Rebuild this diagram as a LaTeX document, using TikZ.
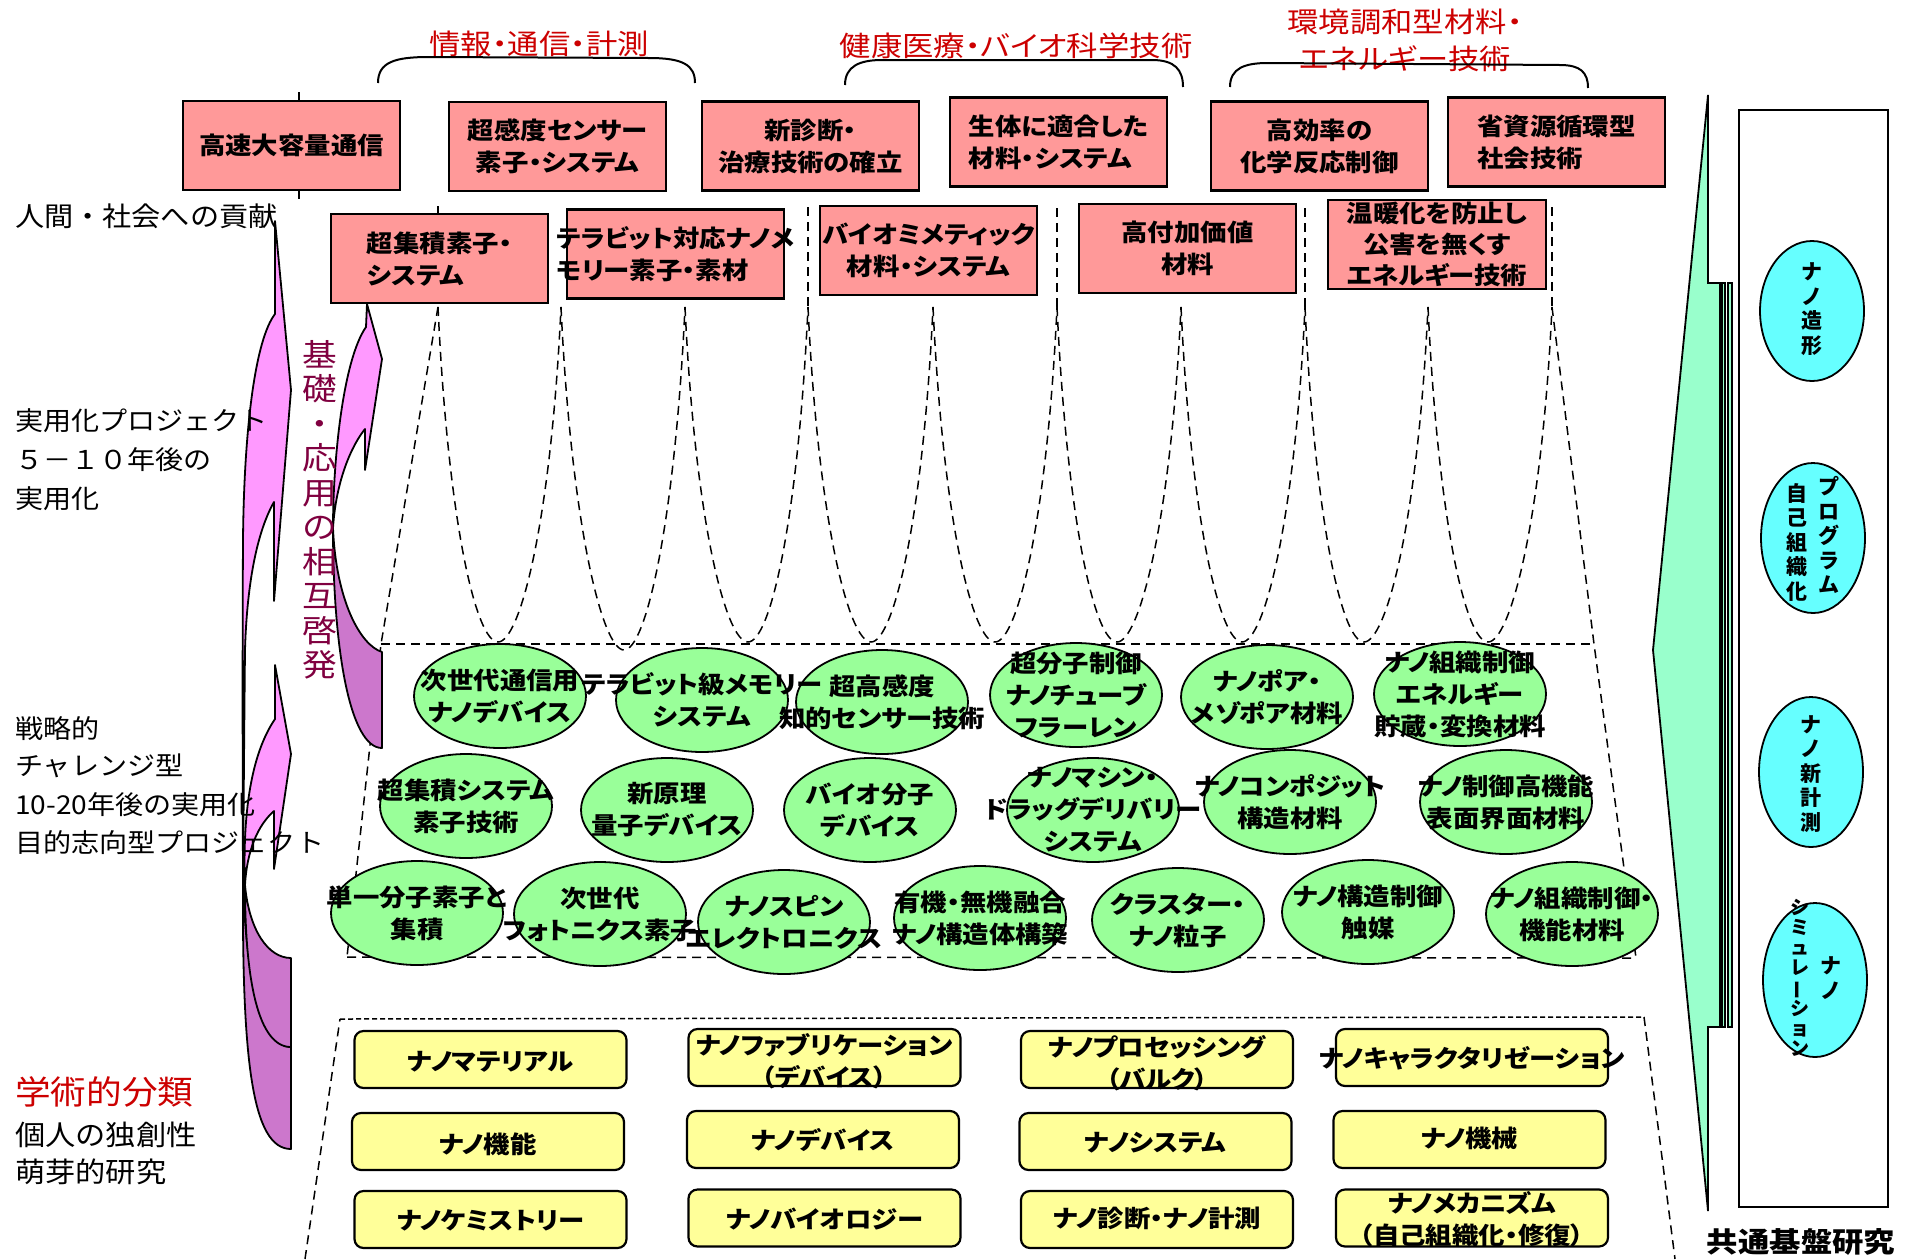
\documentclass[tikz,border=0pt]{standalone}
\usepackage{fontspec}
\usepackage{graphicx}
\setmainfont{Noto Sans CJK JP}
\newfontfamily\jpL{Noto Sans CJK JP}[FakeStretch=1.08]
\newfontfamily\jpP{Noto Sans CJK JP}[FakeStretch=1.12,RawFeature={+palt}]
\newfontfamily\jpB{Noto Sans CJK JP}[FakeStretch=1.10,RawFeature={+palt}]
\newfontfamily\jpN{Noto Sans CJK JP}[FakeStretch=1.12]
\usetikzlibrary{shapes.geometric,calc}
\definecolor{pinkbox}{HTML}{FF9999}
\definecolor{greenell}{HTML}{99FF99}
\definecolor{yellowbox}{HTML}{FFFF99}
\definecolor{cyanell}{HTML}{66FFFF}
\definecolor{arrowlight}{HTML}{FF99FF}
\definecolor{arrowdark}{HTML}{CC77CC}
\definecolor{bigarrow}{HTML}{99FFCC}
\definecolor{redlbl}{HTML}{CC0000}
\definecolor{kisocol}{HTML}{800040}
\tikzset{
 pbox/.style={draw=black, line width=2.2pt, fill=pinkbox, inner sep=0pt, minimum width=217pt, minimum height=89pt},
 gell/.style={ellipse, draw=black, line width=1.8pt, fill=greenell, inner sep=0pt, minimum width=172pt, minimum height=104pt},
 cell/.style={ellipse, draw=black, line width=1.8pt, fill=cyanell, inner sep=0pt, minimum width=104pt},
 ybox/.style={draw=black, line width=2.2pt, fill=yellowbox, rounded corners=9pt, inner sep=0pt, minimum width=272pt, minimum height=57pt},
 btxt/.style={inner sep=0pt, align=center, font=\jpB\bfseries\fontsize{24}{32}\selectfont},
 ltxt/.style={inner sep=0pt, anchor=west, font=\jpL\fontsize{26}{30}\selectfont},
 rtxt/.style={inner sep=0pt, align=center, text=redlbl, font=\jpP\fontsize{28}{37}\selectfont},
 vtxt/.style={inner sep=0pt, align=center, font=\bfseries\fontsize{21}{24.5}\selectfont},
 dsh/.style={dash pattern=on 9pt off 6pt, line width=1.5pt},
 fdsh/.style={dash pattern=on 5pt off 3pt, line width=1.5pt},
 brk/.style={line width=2pt},
 arw/.style={draw=black, line width=1.8pt, line join=round},
}
\begin{document}
\begin{tikzpicture}[x=1pt,y=-1pt]
\useasboundingbox (0,0) rectangle (1910,1259);
\fill[white] (0,0) rectangle (1910,1259);

% ---------- coordinates for dashed guide curves ----------
\foreach \xx [count=\i from 0] in {438,561,685,808,933,1057,1181,1305,1428,1552}
  \coordinate (u\i) at (\xx,307);
\foreach \xx/\yy [count=\i from 1] in {498/642,624/650,748/642,871/642,995/642,1117/642,1242/642,1364/642,1488/642}
  \coordinate (v\i) at (\xx,\yy);
\coordinate (w3) at (808,207);
\coordinate (w5) at (1057,208);
\coordinate (w7) at (1305,208);
\coordinate (w9) at (1552,207);
\coordinate (tl) at (381,644);
\coordinate (tr) at (1594,644);
\coordinate (bl) at (347,957);
\coordinate (br) at (1636,958);
\coordinate (ltl) at (340,1019);
\coordinate (ltr) at (1644,1017);
\coordinate (lbl) at (305,1259);
\coordinate (lbr) at (1675,1259);

\foreach \i [count=\j from 0] in {1,...,9}
  \draw[dsh] (u\j) .. controls ($(u\j)+(10,215)$) and ($(v\i)+(-22,0)$) .. (v\i)
                   .. controls ($(v\i)+(22,0)$) and ($(u\i)+(-10,215)$) .. (u\i);
\draw[dsh] (w3) -- (u3);
\draw[dsh] (w5) -- (u5);
\draw[dsh] (w7) -- (u7);
\draw[dsh] (w9) -- (u9);
\draw[dsh] (u0) -- (tl) -- (bl);
\draw[dsh] (tl) -- (tr);
\draw[dsh] (bl) -- (br);
\draw[dsh] (u9) -- (tr) -- (br);
\draw[dsh] (lbl) -- (ltl);
\draw[fdsh] (ltl) -- (ltr);
\draw[dsh] (ltr) -- (lbr);

% ---------- left curved arrows ----------
% big arrow A
\draw[arw, fill=arrowlight] (275,221) -- (291,390) -- (274,601) -- (274,502)
  .. controls (258,530) and (247,580) .. (245,650)
  .. controls (244,750) and (243.5,830) .. (243,880)
  .. controls (242.5,750) and (242.5,620) .. (243,540)
  .. controls (244,430) and (255,340) .. (275,314) -- cycle;
\draw[arw, fill=arrowdark] (243,880) .. controls (242,1060) and (252,1149) .. (291,1149)
  -- (291,1047) .. controls (265,1047) and (246,990) .. (243,880) -- cycle;
% arrow C
\draw[arw, fill=arrowlight] (275,665) -- (291,754) -- (274,869) -- (274,811)
  .. controls (258,825) and (247,850) .. (245,885)
  .. controls (243,830) and (247,760) .. (275,719) -- cycle;
\draw[arw, fill=arrowdark] (245,885) .. controls (245,980) and (258,1047) .. (291,1047)
  -- (291,958) .. controls (268,958) and (249,930) .. (245,885) -- cycle;
% small arrow S
\draw[arw, fill=arrowlight] (367,304) -- (382,359) -- (365,470) -- (365,429)
  .. controls (352,445) and (336,480) .. (333,528)
  .. controls (333,460) and (343,360) .. (366,327) -- cycle;
\draw[arw, fill=arrowdark] (333,528) .. controls (333,650) and (350,748) .. (382,748)
  -- (382,652) .. controls (360,645) and (336,600) .. (333,528) -- cycle;

% vertical maroon text
\node[inner sep=0pt, align=center, text=kisocol, font=\jpP\fontsize{31}{34.5}\selectfont] (kiso) at (320,510)
  {基\\礎\\・\\応\\用\\の\\相\\互\\啓\\発};

% ---------- right side ----------
\draw[line width=1.8pt, fill=bigarrow, line join=miter] (1708,95) -- (1653,650) -- (1708,1211) -- (1708,1027)
  -- (1720,1027) -- (1720,283) -- (1708,283) -- cycle;
\draw[line width=1.2pt, fill=bigarrow] (1722,283) rectangle (1725,1027);
\draw[line width=1.2pt, fill=bigarrow] (1728,283) rectangle (1732,1027);
\node[draw=black, line width=1.8pt, fill=white, minimum width=149pt, minimum height=1097pt, inner sep=0pt] (panel) at (1813.5,658.5) {};
\node[cell, minimum height=140pt] (c1) at (1812,311) {};
\node[cell, minimum height=150pt] (c2) at (1813,538) {};
\node[cell, minimum height=150pt] (c3) at (1811,772) {};
\node[cell, minimum height=154pt] (c4) at (1815,980) {};
\node[vtxt] (c1t) at (1812,309) {ナ\\ノ\\造\\形};
\node[vtxt] (c2r) at (1829,535) {プ\\ロ\\グ\\ラ\\ム};
\node[vtxt] (c2l) at (1797,542) {自\\己\\組\\織\\化};
\node[vtxt] (c3t) at (1811,774) {ナ\\ノ\\新\\計\\測};
\node[vtxt] (c4r) at (1831,978) {ナ\\ノ};
\node[vtxt, font=\bfseries\fontsize{19}{20}\selectfont] (c4l) at (1800,978)
  {シ\\ミ\\ュ\\レ\\\rotatebox[origin=c]{90}{ー}\\シ\\ョ\\ン};
\node[inner sep=0pt, font=\jpN\bfseries\fontsize{28}{30}\selectfont] (kiban) at (1801,1242) {共通基盤研究};

% ---------- pink boxes ----------
\node[pbox] (b1) at (291.5,145.5) {};
\node[pbox] (b2) at (557.5,146.5) {};
\node[pbox] (b3) at (810.5,146) {};
\node[pbox] (b4) at (1058.5,142) {};
\node[pbox] (b5) at (1319.5,146) {};
\node[pbox] (b6) at (1556.5,142) {};
\node[pbox] (b7) at (439.5,258.5) {};
\node[pbox] (b8) at (675.5,254) {};
\node[pbox] (b9) at (928.5,250.5) {};
\node[pbox] (b10) at (1187.5,248.5) {};
\node[pbox, minimum width=218pt] (b11) at (1437,244.5) {};
\node[btxt] (b1t) at (b1) {高速大容量通信};
\node[btxt] (b2t) at (b2) {超感度センサー\\素子・システム};
\node[btxt] (b3t) at (b3) {新診断・\\治療技術の確立};
\node[btxt, align=left] (b4t) at (b4) {生体に適合した\\材料・システム};
\node[btxt] (b5t) at (b5) {高効率の\\化学反応制御};
\node[btxt, align=left] (b6t) at (b6) {省資源循環型\\社会技術};
\node[btxt, align=left] (b7t) at ($(b7)+(0,1)$) {超集積素子・\\システム};
\node[btxt, align=left] (b8t) at (b8) {テラビット対応ナノメ\\モリー素子・素材};
\node[btxt] (b9t) at (b9) {バイオミメティック\\材料・システム};
\node[btxt] (b10t) at (b10) {高付加価値\\材料};
\node[btxt, font=\jpB\bfseries\fontsize{24}{31}\selectfont] (b11t) at (b11) {温暖化を防止し\\公害を無くす\\エネルギー技術};
\draw[line width=1.5pt] ($(b1.north)+(7.5,0)$) -- ++(0,-8);
\draw[line width=1.5pt] ($(b1.south)+(7.5,0)$) -- ++(0,8);
\draw[line width=1.5pt] ($(b7.north)+(-1.5,0)$) -- ++(0,-7);

% ---------- green ellipses ----------
\node[gell] (e1) at (500,696) {};
\node[gell] (e2) at (702,700) {};
\node[gell] (e3) at (882,702) {};
\node[gell] (e4) at (1076,695) {};
\node[gell] (e5) at (1267,697) {};
\node[gell] (e6) at (1460,694) {};
\node[gell] (e7) at (466,806) {};
\node[gell] (e8) at (667,810) {};
\node[gell] (e9) at (870,810) {};
\node[gell] (e10) at (1093,810) {};
\node[gell] (e11) at (1290,802) {};
\node[gell] (e12) at (1506,802) {};
\node[gell] (e13) at (417,913) {};
\node[gell] (e14) at (600,914) {};
\node[gell] (e15) at (784,922) {};
\node[gell] (e16) at (980,918) {};
\node[gell] (e17) at (1178,920) {};
\node[gell] (e18) at (1368,912) {};
\node[gell] (e19) at (1572,914) {};
\node[btxt] (e1t) at (e1) {次世代通信用\\ナノデバイス};
\node[btxt] (e2t) at (e2) {テラビット級メモリー\\システム};
\node[btxt] (e3t) at (e3) {超高感度\\知的センサー技術};
\node[btxt] (e4t) at (e4) {超分子制御\\ナノチューブ\\フラーレン};
\node[btxt] (e5t) at (e5) {ナノポア・\\メゾポア材料};
\node[btxt] (e6t) at (e6) {ナノ組織制御\\エネルギー\\貯蔵・変換材料};
\node[btxt] (e7t) at (e7) {超集積システム\\素子技術};
\node[btxt] (e8t) at (e8) {新原理\\量子デバイス};
\node[btxt] (e9t) at (e9) {バイオ分子\\デバイス};
\node[btxt] (e10t) at (e10) {ナノマシン・\\ドラッグデリバリー\\システム};
\node[btxt] (e11t) at (e11) {ナノコンポジット\\構造材料};
\node[btxt] (e12t) at (e12) {ナノ制御高機能\\表面界面材料};
\node[btxt] (e13t) at (e13) {単一分子素子と\\集積};
\node[btxt] (e14t) at (e14) {次世代\\フォトニクス素子};
\node[btxt] (e15t) at (e15) {ナノスピン\\エレクトロニクス};
\node[btxt] (e16t) at (e16) {有機・無機融合\\ナノ構造体構築};
\node[btxt] (e17t) at (e17) {クラスター・\\ナノ粒子};
\node[btxt] (e18t) at (e18) {ナノ構造制御\\触媒};
\node[btxt] (e19t) at (e19) {ナノ組織制御・\\機能材料};

% ---------- yellow boxes ----------
\node[ybox] (y1) at (490.5,1059.5) {};
\node[ybox] (y2) at (824.5,1057.5) {};
\node[ybox] (y3) at (1157,1059.5) {};
\node[ybox] (y4) at (1472,1057.5) {};
\node[ybox] (y5) at (488,1141.5) {};
\node[ybox] (y6) at (823,1139.5) {};
\node[ybox] (y7) at (1155.5,1141.5) {};
\node[ybox] (y8) at (1469.5,1139.5) {};
\node[ybox] (y9) at (490.5,1219.5) {};
\node[ybox] (y10) at (824.5,1218) {};
\node[ybox] (y11) at (1157,1219.5) {};
\node[ybox] (y12) at (1472,1218) {};
\node[btxt] (y1t) at ($(y1)+(0,2)$) {ナノマテリアル};
\node[btxt] (y2t) at ($(y2)+(0,4)$) {ナノファブリケーション\\（デバイス）};
\node[btxt] (y3t) at ($(y3)+(0,4)$) {ナノプロセッシング\\（バルク）};
\node[btxt] (y4t) at ($(y4)+(0,1)$) {ナノキャラクタリゼーション};
\node[btxt] (y5t) at ($(y5)+(0,3)$) {ナノ機能};
\node[btxt] (y6t) at ($(y6)+(0,1)$) {ナノデバイス};
\node[btxt] (y7t) at ($(y7)+(0,1)$) {ナノシステム};
\node[btxt] (y8t) at ($(y8)+(0,-1)$) {ナノ機械};
\node[btxt] (y9t) at ($(y9)+(0,1)$) {ナノケミストリー};
\node[btxt] (y10t) at ($(y10)+(0,1)$) {ナノバイオロジー};
\node[btxt] (y11t) at ($(y11)+(0,-1)$) {ナノ診断・ナノ計測};
\node[btxt] (y12t) at ($(y12)+(0,1)$) {ナノメカニズム\\（自己組織化・修復）};

% ---------- left labels ----------
\node[ltxt, font=\jpL\fontsize{27}{30}\selectfont] (l1) at (15,216) {人間・社会への貢献};
\node[ltxt] (l2a) at (15,421) {実用化プロジェクト};
\node[ltxt] (l2b) at (15,460) {５－１０年後の};
\node[ltxt] (l2c) at (15,499) {実用化};
\node[ltxt] (l3a) at (15,729) {戦略的};
\node[ltxt] (l3b) at (15,766) {チャレンジ型};
\node[ltxt] (l3c) at (15,805) {10-20年後の実用化};
\node[ltxt] (l3d) at (15,843) {目的志向型プロジェクト};
\node[ltxt, text=redlbl, font=\jpL\fontsize{33}{36}\selectfont] (l4a) at (15,1092) {学術的分類};
\node[ltxt, font=\jpL\fontsize{28}{30}\selectfont] (l4b) at (15,1135) {個人の独創性};
\node[ltxt, font=\jpL\fontsize{28}{30}\selectfont] (l4c) at (15,1172) {萌芽的研究};

% ---------- top category labels ----------
\node[rtxt] (r1) at (539,44) {情報・通信・計測};
\node[rtxt] (r2) at (1016,46) {健康医療・バイオ科学技術};
\node[rtxt] (r3) at (1405,40) {環境調和型材料・\\エネルギー技術};
\draw[brk] (378,83) .. controls (378,62) and (395,57) .. (429,57) -- (649,58)
  .. controls (683,58) and (695,65) .. (695,83);
\draw[brk] (845,85) .. controls (845,66) and (860,60) .. (882,60) -- (1152,60)
  .. controls (1175,60) and (1183,70) .. (1183,87);
\draw[brk] (1230,87) .. controls (1230,68) and (1245,63) .. (1268,63) -- (1560,65)
  .. controls (1580,65) and (1588,72) .. (1588,88);
\end{tikzpicture}
\end{document}
